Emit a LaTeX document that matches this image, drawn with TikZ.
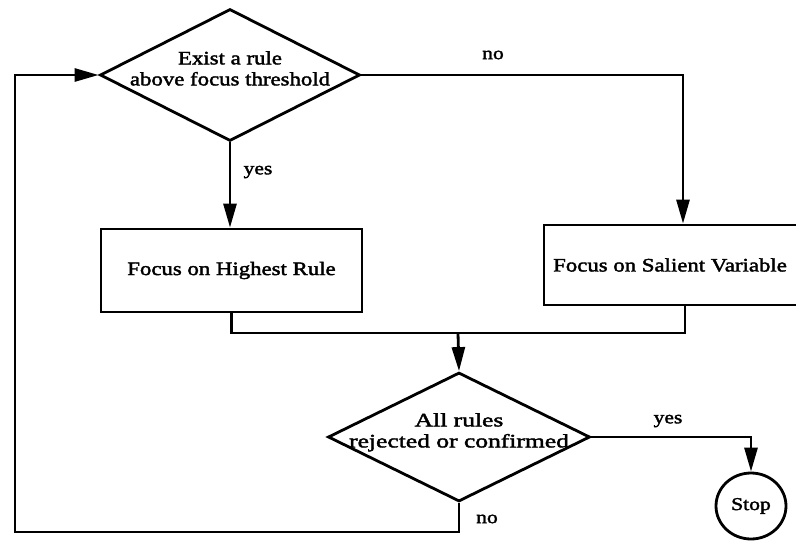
\documentclass[tikz,border=0pt]{standalone}
\usepackage{fontspec}
\setmainfont{Liberation Serif}[FakeStretch=1.2, FakeBold=2]
\usetikzlibrary{shapes.geometric,arrows.meta}
% text box that takes no room, so a diamond keeps its set size
\newcommand{\zerotext}[1]{\smash{\makebox[0pt]{\begin{tabular}{@{}c@{}}#1\end{tabular}}}}
\tikzset{
  flow/.style={line width=2.8pt, line join=miter},
  arrow/.style={flow, -{Triangle[length=24pt,width=13pt]}},
  decision/.style={diamond, draw, line width=2.8pt, inner sep=0pt, font=\fontsize{19}{21}\selectfont},
  process/.style={rectangle, draw, line width=2.8pt, inner sep=0pt, font=\fontsize{19}{22}\selectfont},
  terminal/.style={ellipse, draw, line width=2.8pt, inner sep=0pt, font=\fontsize{18}{20}\selectfont},
  tag/.style={inner sep=0pt, font=\fontsize{18}{20}\selectfont}
}
\begin{document}
\begin{tikzpicture}[x=1pt,y=-1pt]
\clip (0,0) rectangle (796,541);
\fill[white] (0,0) rectangle (796,541);

\node[decision, minimum width=260pt, minimum height=132pt] (d1) at (230,75)
  {\zerotext{Exist a rule\\above focus threshold}};
\node[process, minimum width=261pt, minimum height=83pt] (b1) at (231.5,270.5)
  {Focus on Highest Rule};
\node[process, minimum width=256pt, minimum height=80pt, align=left] (b2) at (672,265)
  {\hspace{-4pt}Focus on Salient Variable};
\node[decision, minimum width=262pt, minimum height=129pt] (d2) at (459,437)
  {\zerotext{\scalebox{1.12}[1]{All rules}\\\scalebox{1.12}[1]{rejected or confirmed}}};
\node[terminal, minimum width=70pt, minimum height=66pt] (stop) at (751,506) {Stop};

\coordinate (join) at (458,333);
\coordinate (loopL) at (15,532);

% yes / no branches of the threshold test
\draw[arrow] (d1.south) -- (d1.south |- b1.north);
\draw[arrow] (d1.east) -| ([xshift=11pt]b2.north);
% both focus steps merge into the final test
\draw[flow] (b1.south) |- (join);
\draw[flow] ([xshift=13pt]b2.south) |- (join);
\draw[arrow] (join) -- (d2.north);
% finish, or loop back to the start
\draw[arrow] (d2.east) -| (stop.north);
\draw[arrow] (d2.south) |- (loopL) |- (d1.west);

\node[tag] (l1) at (258,172) {yes};
\node[tag] (l2) at (493,55) {no};
\node[tag] (l3) at (668,421) {yes};
\node[tag] (l4) at (487,519) {no};
\end{tikzpicture}
\end{document}
